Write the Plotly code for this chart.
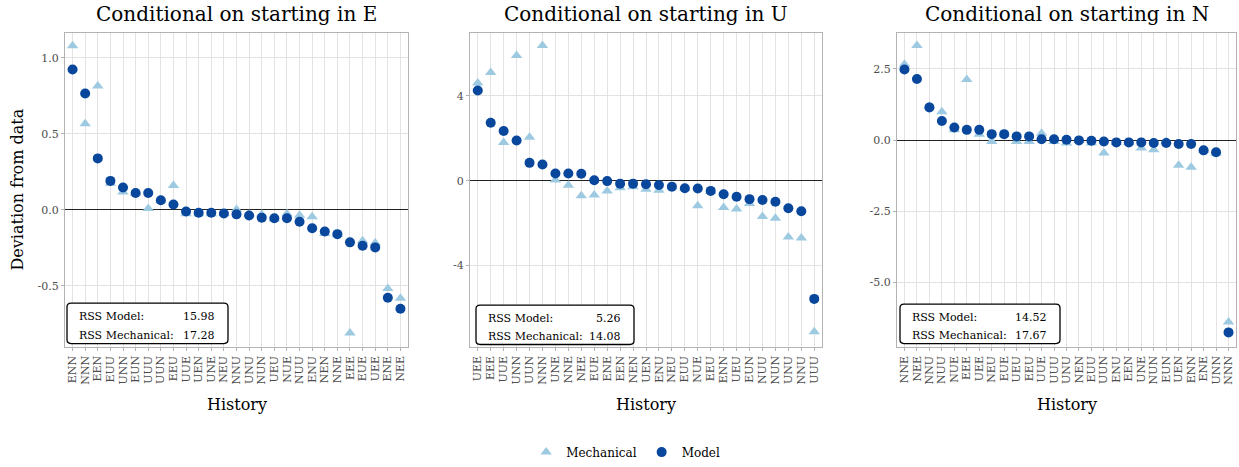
import plotly.graph_objects as go

# ---------------- data ----------------
hist_E = ["ENN","NNN","EEN","EUU","UNN","EUN","UUU","UUN","EEU","UUE","UEN","UNE","NEU","NNU",
          "UNU","NUN","UEU","NUE","NUU","ENU","NEN","NNE","EEE","EUE","UEE","ENE","NEE"]
model_E = [0.922,0.764,0.338,0.190,0.147,0.110,0.110,0.063,0.035,-0.011,-0.019,-0.019,-0.024,-0.030,
           -0.037,-0.052,-0.056,-0.056,-0.078,-0.121,-0.143,-0.160,-0.214,-0.236,-0.247,-0.578,-0.651]
mech_E = [1.078,0.565,0.814,0.175,0.117,0.110,0.008,0.060,0.160,-0.026,-0.026,-0.026,-0.024,0.002,
          -0.030,-0.030,-0.060,-0.026,-0.035,-0.045,-0.156,-0.160,-0.810,-0.203,-0.218,-0.517,-0.582]

hist_U = ["UEE","EEE","UUE","UNN","UUN","NNN","UNE","NNE","NEE","EUE","ENE","EEN","NEN","UEN",
          "ENU","NEU","EUU","NUE","EEU","ENN","UEU","EUN","NUU","NUN","UNU","NNU","UUU"]
model_U = [4.25,2.73,2.34,1.89,0.84,0.76,0.34,0.34,0.33,0.02,-0.02,-0.14,-0.14,-0.17,
           -0.20,-0.28,-0.36,-0.37,-0.48,-0.64,-0.76,-0.87,-0.91,-0.99,-1.30,-1.44,-5.57]
mech_U = [4.60,5.10,1.80,5.90,2.05,6.37,0.03,-0.22,-0.71,-0.68,-0.48,-0.33,-0.29,-0.40,
          -0.45,-0.30,-0.36,-1.18,-0.50,-1.26,-1.33,-1.07,-1.69,-1.77,-2.65,-2.70,-7.12]

hist_N = ["NNE","NEE","NNU","NUU","NUE","EEE","UEE","NEU","EUE","UEU","EEU","UUE","UUU","UNU",
          "NEN","EUU","UUN","ENU","EEN","UNE","NUN","EUN","UEN","ENN","ENE","UNN","NNN"]
model_N = [2.48,2.15,1.15,0.67,0.44,0.36,0.36,0.21,0.21,0.13,0.13,0.03,0.03,0.01,
           -0.01,-0.02,-0.05,-0.08,-0.08,-0.08,-0.10,-0.10,-0.14,-0.14,-0.36,-0.43,-6.76]
mech_N = [2.67,3.33,1.20,1.00,0.36,2.13,0.21,-0.05,0.21,-0.05,-0.05,0.24,-0.05,-0.10,
          -0.01,-0.10,-0.45,-0.08,-0.08,-0.28,-0.34,-0.05,-0.88,-0.95,-0.36,-0.45,-6.39]

titles = ["Conditional on starting in E", "Conditional on starting in U", "Conditional on starting in N"]
rss_model = ["15.98", "5.26", "14.52"]
rss_mech = ["17.28", "14.08", "17.67"]

y_ranges = [[-0.905, 1.165], [-7.86, 6.98], [-7.29, 3.78]]
y_ticks = [[-0.5, 0.0, 0.5, 1.0], [-4, 0, 4], [-5.0, -2.5, 0.0, 2.5]]
y_ticktext = [["-0.5", "0.0", "0.5", "1.0"], ["-4", "0", "4"], ["-5.0", "-2.5", "0.0", "2.5"]]

# ---------------- layout geometry (pixels) ----------------
W, H = 1239, 467
panels_px = [(65, 408), (470, 822), (897, 1236)]
top_px, bot_px = 33, 352
boxes_px = [(67, 228, 307, 348, 77, 217), (476, 634, 309, 349, 486, 623), (900, 1060, 308, 348, 910, 1049)]

FONT = "DejaVu Serif"
C_MODEL = "#08479b"
C_MECH = "#9ecae1"

fig = go.Figure()
hists = [hist_E, hist_U, hist_N]
models = [model_E, model_U, model_N]
mechs = [mech_E, mech_U, mech_N]

for i in range(3):
    xa = "x" if i == 0 else f"x{i+1}"
    ya = "y" if i == 0 else f"y{i+1}"
    fig.add_trace(go.Scatter(x=hists[i], y=mechs[i], mode="markers", name="Mechanical",
                             marker=dict(symbol="triangle-up", size=10, color=C_MECH),
                             xaxis=xa, yaxis=ya, showlegend=(i == 0), legendgroup="mech"))
    fig.add_trace(go.Scatter(x=hists[i], y=models[i], mode="markers", name="Model",
                             marker=dict(symbol="circle", size=10, color=C_MODEL),
                             xaxis=xa, yaxis=ya, showlegend=(i == 0), legendgroup="model"))

layout = {}
y_dom = [1 - bot_px / H, 1 - top_px / H]
annotations = []
shapes = []


def rounded_rect(x0, x1, y0, y1, r=4):
    def P(x, y):
        return f"{x / W:.5f},{1 - y / H:.5f}"
    return ("M " + P(x0 + r, y0) + " L " + P(x1 - r, y0) + " Q " + P(x1, y0) + " " + P(x1, y0 + r) +
            " L " + P(x1, y1 - r) + " Q " + P(x1, y1) + " " + P(x1 - r, y1) +
            " L " + P(x0 + r, y1) + " Q " + P(x0, y1) + " " + P(x0, y1 - r) +
            " L " + P(x0, y0 + r) + " Q " + P(x0, y0) + " " + P(x0 + r, y0) + " Z")


for i in range(3):
    xk = "xaxis" if i == 0 else f"xaxis{i+1}"
    yk = "yaxis" if i == 0 else f"yaxis{i+1}"
    ya = "y" if i == 0 else f"y{i+1}"
    xa = "x" if i == 0 else f"x{i+1}"
    x0p, x1p = panels_px[i]
    layout[xk] = dict(domain=[x0p / W, x1p / W], anchor=ya, type="category",
                      categoryorder="array", categoryarray=hists[i],
                      tickmode="array", tickvals=hists[i], ticktext=hists[i],
                      range=[-0.6, 26.6], tickangle=-90,
                      tickfont=dict(family=FONT, size=11, color="#4d4d4d"),
                      showgrid=True, gridcolor="#e3e3e3", gridwidth=1,
                      showline=True, linecolor="#b3b3b3", linewidth=1, mirror=True,
                      ticks="outside", ticklen=3, tickcolor="#b3b3b3", zeroline=False)
    layout[yk] = dict(domain=y_dom, anchor=xa, range=y_ranges[i],
                      tickvals=y_ticks[i], ticktext=y_ticktext[i],
                      tickfont=dict(family=FONT, size=11, color="#4d4d4d"),
                      showgrid=True, gridcolor="#e3e3e3", gridwidth=1,
                      showline=True, linecolor="#b3b3b3", linewidth=1, mirror=True,
                      ticks="outside", ticklen=3, tickcolor="#b3b3b3",
                      zeroline=True, zerolinecolor="#222222", zerolinewidth=1)
    cx = (x0p + x1p) / 2 / W
    annotations.append(dict(text=titles[i], x=cx, y=1 - 14 / H, xref="paper", yref="paper",
                            showarrow=False, xanchor="center", yanchor="middle",
                            font=dict(family=FONT, size=20, color="black")))
    annotations.append(dict(text="History", x=cx, y=1 - 410 / H, xref="paper", yref="paper",
                            showarrow=False, xanchor="center", yanchor="middle",
                            font=dict(family=FONT, size=16, color="black")))
    bx0, bx1, by0, by1, tl, tr = boxes_px[i]
    shapes.append(dict(type="path", path=rounded_rect(bx0, bx1, by0, by1), xref="paper", yref="paper",
                       line=dict(color="black", width=1.3), fillcolor="white", layer="above"))
    r1 = by0 + (by1 - by0) * 0.33
    r2 = by0 + (by1 - by0) * 0.8
    for (yy, lab, val) in [(r1, "RSS Model:", rss_model[i]), (r2, "RSS Mechanical:", rss_mech[i])]:
        annotations.append(dict(text=lab, x=tl / W, y=1 - yy / H, xref="paper", yref="paper",
                                showarrow=False, xanchor="left", yanchor="middle",
                                font=dict(family=FONT, size=11, color="black")))
        annotations.append(dict(text=val, x=tr / W, y=1 - yy / H, xref="paper", yref="paper",
                                showarrow=False, xanchor="right", yanchor="middle",
                                font=dict(family=FONT, size=11, color="black")))

annotations.append(dict(text="Deviation from data", x=18 / W, y=1 - 192 / H, xref="paper", yref="paper",
                        showarrow=False, textangle=-90, xanchor="center", yanchor="middle",
                        font=dict(family=FONT, size=16, color="black")))

fig.update_layout(**layout)
fig.update_layout(
    width=W, height=H,
    margin=dict(l=0, r=0, t=0, b=0),
    paper_bgcolor="white", plot_bgcolor="white",
    annotations=annotations, shapes=shapes,
    showlegend=True,
    legend=dict(orientation="h", x=0.505, xanchor="center", y=1 - 458 / H, yanchor="middle",
                font=dict(family=FONT, size=12, color="black"), itemwidth=30,
                bgcolor="rgba(0,0,0,0)"),
)

fig.write_html("out.html")
